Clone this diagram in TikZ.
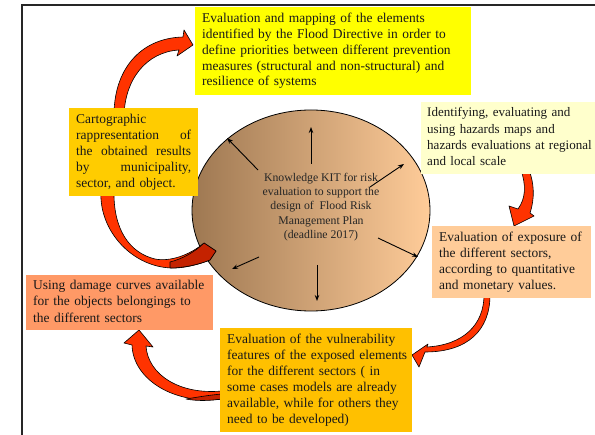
\documentclass[tikz,border=0pt]{standalone}
\usepackage{fontspec}
\setmainfont{Liberation Serif}
\usetikzlibrary{shapes.geometric,arrows.meta}

\definecolor{bandred}{HTML}{FF3300}
\definecolor{banddark}{HTML}{C42200}
\definecolor{mapyellow}{HTML}{FFFF00}
\definecolor{cartogold}{HTML}{FFCC00}
\definecolor{vulngold}{HTML}{FFC000}
\definecolor{hazcream}{HTML}{FFFFCC}
\definecolor{expopeach}{HTML}{FFCC99}
\definecolor{damsalmon}{HTML}{FF9966}
\definecolor{kitdark}{HTML}{9E7852}
\definecolor{kitlight}{HTML}{FFCC99}

% fixed, unbroken lines of box text
\newcommand\boxlines[1]{\begin{tabular}{@{}l@{}}#1\end{tabular}}

\tikzset{
  infobox/.style={anchor=north west, inner xsep=7bp, inner ysep=0pt,
    align=left, font=\fontsize{13.5}{16.2}\selectfont, text=black!90},
  ribbon/.style={fill=bandred, draw=black, line width=0.6bp, line join=round},
  ribbonback/.style={fill=banddark, draw=black, line width=0.6bp, line join=round},
  spoke/.style={draw=black, line width=0.9bp,
    -{Stealth[length=6bp,width=4.5bp]}},
  frameline/.style={draw=black!85, line width=1.6bp}
}

\begin{document}
\begin{tikzpicture}[x=1bp,y=-1bp]
  \useasboundingbox[fill=white] (0,0) rectangle (595,435);

  % page frame (top and left edges)
  \draw[frameline] (595,5) -- (22,5) -- (22,435);

  % central knowledge kit
  \node[ellipse, draw=black, line width=0.8bp, left color=kitdark, right color=kitlight,
        minimum width=238bp, minimum height=201bp] (kit) at (311,210.5) {};
  \node[align=center, font=\fontsize{11.8}{14.2}\selectfont, text=black!85]
        (kittext) at (321,207)
        {Knowledge KIT for risk\\evaluation to support the\\design of \ Flood Risk\\Management Plan\\(deadline 2017)};

  % spokes from the kit
  \coordinate (upS) at (311,164);  \coordinate (upE) at (311,127);
  \coordinate (ulS) at (258,170);  \coordinate (ulE) at (227,138);
  \coordinate (urS) at (370,187);  \coordinate (urE) at (404,164);
  \coordinate (lrS) at (378,238);  \coordinate (lrE) at (418,257);
  \coordinate (dnS) at (317,265);  \coordinate (dnE) at (317,301);
  \coordinate (llS) at (259,257);  \coordinate (llE) at (232,269);
  \draw[spoke] (upS) -- (upE);
  \draw[spoke] (ulS) -- (ulE);
  \draw[spoke] (urS) -- (urE);
  \draw[spoke] (lrS) -- (lrE);
  \draw[spoke] (dnS) -- (dnE);
  \draw[spoke] (llS) -- (llE);

  % curved block arrows of the cycle
  % cartography -> mapping
  \path[ribbon] (114,118) .. controls (113,70) and (140,38) .. (183,37)
     -- (184,30) -- (193,45) -- (177,56) -- (179,50)
     .. controls (146,52) and (124,80) .. (124,118) -- cycle;
  % kit -> cartography
  \path[ribbon] (101,190) .. controls (98,235) and (140,275) .. (185,267)
     .. controls (197,265) and (205,262) .. (210,260)
     -- (216,251) -- (204,243)
     .. controls (190,255) and (170,262) .. (155,259)
     .. controls (130,253) and (113,230) .. (114,190) -- cycle;
  \path[ribbonback] (170,268) .. controls (185,268) and (200,264) .. (210,260)
     -- (216,251) -- (204,243)
     .. controls (195,252) and (182,259) .. (170,262) -- cycle;
  % vulnerability -> damage curves
  \path[ribbon] (222,399) .. controls (175,405) and (133,380) .. (132,345)
     -- (124,343) -- (139,330) -- (153,347) -- (146,346)
     .. controls (148,375) and (180,395) .. (222,391) -- cycle;
  \path[ribbonback] (222,399) .. controls (208,401) and (196,401) .. (186,399)
     .. controls (198,397) and (210,395) .. (222,394) -- cycle;
  % hazards -> exposure
  \path[ribbon] (521,170) .. controls (526,185) and (526,198) .. (518,209)
     -- (509,206) -- (514,226) -- (534,216) -- (530,213)
     .. controls (535,198) and (534,183) .. (529,170) -- cycle;
  % exposure -> vulnerability
  \path[ribbon] (490,295) .. controls (490,330) and (468,352) .. (425,352)
     -- (419,367) -- (412,355) -- (428,344) -- (426.8,347)
     .. controls (463,345) and (484,325) .. (484,295) -- cycle;

  % text boxes
  \node[infobox, font=\fontsize{13.5}{15.8}\selectfont, fill=mapyellow,
        text width=262bp, minimum height=88bp] (mapping) at (195,7)
    {\boxlines{Evaluation and mapping of the elements\\identified by the Flood Directive in order to\\define priorities between different prevention\\measures (structural and non-structural) and\\resilience of systems}};
  \node[infobox, fill=cartogold, text width=115bp, minimum height=88bp] (carto) at (69,108)
    {Cartographic\\rappresentation\hfill of\\the\hfill obtained\hfill results\\by\hfill municipality,\\sector, and object.};
  \node[infobox, inner xsep=6bp, font=\fontsize{13.1}{16.4}\selectfont, fill=hazcream,
        text width=162bp, minimum height=72bp] (hazard) at (421,102)
    {\boxlines{Identifying, evaluating and\\using hazards maps and\\hazards evaluations at regional\\and local scale}};
  \node[infobox, fill=expopeach, text width=145bp, minimum height=72bp] (expo) at (432,226)
    {\boxlines{Evaluation of exposure of\\the different sectors,\\according to quantitative\\and monetary values.}};
  \node[infobox, fill=damsalmon, text width=173bp, minimum height=55bp] (damage) at (26,275)
    {\boxlines{Using damage curves available\\for the objects belongings to\\the different sectors}};
  \node[infobox, fill=vulngold, text width=178bp, minimum height=104bp] (vuln) at (220,328)
    {\boxlines{Evaluation of the vulnerability\\features of the exposed elements\\for the different sectors ( in\\some cases models are already\\available, while for others they\\need to be developed)}};
\end{tikzpicture}
\end{document}
